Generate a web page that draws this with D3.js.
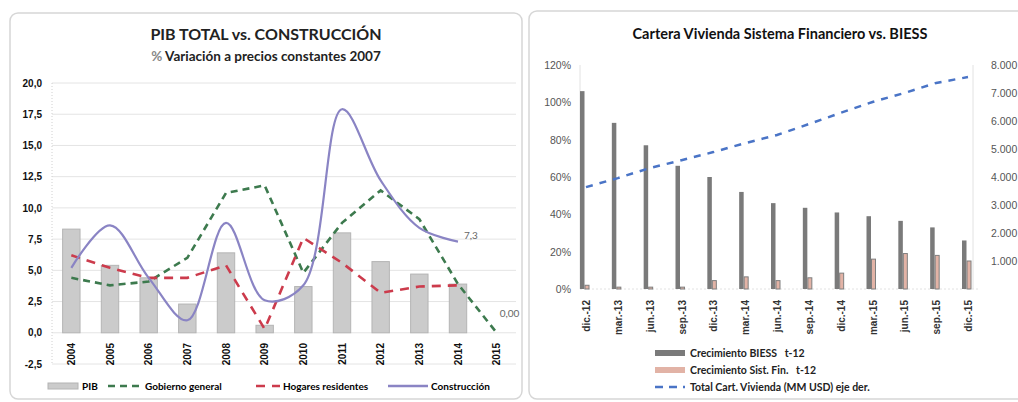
<!DOCTYPE html>
<html>
<head>
<meta charset="utf-8">
<script src="https://cdn.jsdelivr.net/npm/d3@7"></script>
<style>
	body { margin: 0; background: #fff; }
	svg { font-family: Lato, "Open Sans", sans-serif; }
	.axis .domain { display: none; }
	.axis line { display: none; }
	.pre { white-space: pre; }
</style>
</head>
<body>
<div id="chart"></div>
<script>
// ---- left chart data (% variación) ----
const years = ['2004','2005','2006','2007','2008','2009','2010','2011','2012','2013','2014','2015'];
const pib = [8.3, 5.4, 4.4, 2.3, 6.4, 0.6, 3.7, 8.0, 5.7, 4.7, 3.9, null];
const gobierno = [4.4, 3.8, 4.1, 6.0, 11.2, 11.8, 4.8, 8.8, 11.4, 9.1, 3.9, 0.0];
const hogares = [6.2, 5.2, 4.4, 4.4, 5.4, 0.3, 7.6, 5.6, 3.2, 3.7, 3.8, null];
const construccion = [5.2, 8.6, 4.4, 1.0, 8.8, 2.6, 3.8, 17.9, 12.2, 8.4, 7.3, null];
const leftTicks = [-2.5, 0, 2.5, 5, 7.5, 10, 12.5, 15, 17.5, 20];

// ---- right chart data ----
const quarters = ['dic.-12','mar.-13','jun.-13','sep.-13','dic.-13','mar.-14','jun.-14','sep.-14','dic.-14','mar.-15','jun.-15','sep.-15','dic.-15'];
const biess = [1.06, 0.89, 0.77, 0.66, 0.60, 0.52, 0.46, 0.435, 0.41, 0.39, 0.365, 0.33, 0.26];
const sistFin = [0.02, 0.01, 0.01, 0.01, 0.045, 0.065, 0.045, 0.06, 0.085, 0.16, 0.19, 0.18, 0.15];
const totalCart = [3640, 3960, 4320, 4600, 4890, 5210, 5500, 5890, 6290, 6680, 7000, 7360, 7570];
const pctTicks = [0, 0.2, 0.4, 0.6, 0.8, 1.0, 1.2];
const usdTicks = [1000, 2000, 3000, 4000, 5000, 6000, 7000, 8000];

const svg = d3.select('#chart').append('svg')
	.attr('width', 1018)
	.attr('height', 402);

// panel frames
svg.append('rect').attr('x', 10).attr('y', 13).attr('width', 512).attr('height', 386)
	.attr('rx', 8).attr('fill', 'none').attr('stroke', '#d6d6d6').attr('stroke-width', 1.5);
svg.append('rect').attr('x', 529).attr('y', 11).attr('width', 500).attr('height', 388)
	.attr('rx', 8).attr('fill', 'none').attr('stroke', '#d6d6d6').attr('stroke-width', 1.5);

drawLeft();
drawRight();

function drawLeft(){
	const g = svg.append('g').attr('class', 'left');

	g.append('text').attr('x', 266).attr('y', 40).attr('text-anchor', 'middle')
		.style('font-weight', 'bold').style('font-size', '16px').attr('fill', '#222')
		.text('PIB TOTAL vs. CONSTRUCCIÓN');
	const sub = g.append('text').attr('x', 266).attr('y', 61).attr('text-anchor', 'middle')
		.style('font-weight', 'bold').style('font-size', '13.5px').attr('fill', '#222');
	sub.append('tspan').attr('fill', '#888').text('%');
	sub.append('tspan').text(' Variación a precios constantes 2007');

	const x = d3.scaleBand().domain(years).range([52, 516]).paddingInner(0.55).paddingOuter(0.275);
	const y = d3.scaleLinear().domain([-2.5, 20]).range([364, 83]);
	const cx = d => x(d) + x.bandwidth() / 2;

	// gridlines
	g.append('g').selectAll('line').data(leftTicks).join('line')
		.attr('x1', 52).attr('x2', 516)
		.attr('y1', d => y(d)).attr('y2', d => y(d))
		.attr('stroke', '#e4e4e4').attr('stroke-width', 1);
	g.append('line').attr('x1', 52).attr('x2', 52).attr('y1', 83).attr('y2', 364)
		.attr('stroke', '#d0d0d0').attr('stroke-dasharray', '1,2');

	g.append('g').attr('class', 'axis').attr('transform', 'translate(46,0)')
		.call(d3.axisLeft(y).tickValues(leftTicks).tickSize(0).tickPadding(4)
			.tickFormat(d => d3.format('.1f')(d).replace('.', ',').replace('−', '-')))
		.selectAll('text').style('font-size', '10px').style('font-weight', 'bold').attr('fill', '#111');

	g.append('g').attr('class', 'axis').attr('transform', 'translate(0,338)')
		.call(d3.axisBottom(x).tickSize(0))
		.selectAll('text')
			.attr('transform', 'rotate(-90)')
			.attr('x', -5).attr('y', 0).attr('dy', '0.35em')
			.style('text-anchor', 'end')
			.style('font-size', '10px').style('font-weight', 'bold').attr('fill', '#111');

	// PIB bars
	g.append('g').selectAll('rect').data(years.filter((d, i) => pib[i] != null)).join('rect')
		.attr('x', d => x(d))
		.attr('y', d => y(pib[years.indexOf(d)]))
		.attr('width', x.bandwidth())
		.attr('height', d => y(0) - y(pib[years.indexOf(d)]))
		.attr('fill', '#cbcbcb').attr('stroke', '#b4b4b4').attr('stroke-width', 1);

	const series = [
		{ vals: gobierno, color: '#3d7a4e', dash: '7,5', curve: d3.curveLinear, w: 2.6 },
		{ vals: hogares, color: '#cc3b4c', dash: '9,7', curve: d3.curveLinear, w: 2.6 },
		{ vals: construccion, color: '#8a84c4', dash: null, curve: d3.curveCatmullRom.alpha(0.5), w: 2.2 }
	];
	series.forEach(function(s){
		const pts = years.map((d, i) => [d, s.vals[i]]).filter(p => p[1] != null);
		const line = d3.line().curve(s.curve).x(p => cx(p[0])).y(p => y(p[1]));
		g.append('path').datum(pts)
			.attr('d', line)
			.attr('fill', 'none')
			.attr('stroke', s.color)
			.attr('stroke-width', s.w)
			.attr('stroke-dasharray', s.dash);
	});

	g.append('text').attr('x', cx('2014') + 6).attr('y', y(7.3) - 3)
		.style('font-size', '10px').attr('fill', '#666').text('7,3');
	g.append('text').attr('x', cx('2015') + 3).attr('y', y(0) - 16)
		.style('font-size', '10px').attr('fill', '#666').text('0,00');

	// legend
	const ly = 387;
	const lg = g.append('g').style('font-size', '10px').style('font-weight', 'bold');
	lg.append('rect').attr('x', 48).attr('y', ly - 4).attr('width', 30).attr('height', 6)
		.attr('fill', '#cbcbcb').attr('stroke', '#b4b4b4');
	lg.append('text').attr('x', 82).attr('y', ly + 3).text('PIB');
	lg.append('line').attr('x1', 108).attr('x2', 142).attr('y1', ly - 1).attr('y2', ly - 1)
		.attr('stroke', '#3d7a4e').attr('stroke-width', 2.5).attr('stroke-dasharray', '7,5');
	lg.append('text').attr('x', 145).attr('y', ly + 3).text('Gobierno general');
	lg.append('line').attr('x1', 256).attr('x2', 280).attr('y1', ly - 1).attr('y2', ly - 1)
		.attr('stroke', '#cc3b4c').attr('stroke-width', 2.5).attr('stroke-dasharray', '9,7');
	lg.append('text').attr('x', 283).attr('y', ly + 3).text('Hogares residentes');
	lg.append('line').attr('x1', 388).attr('x2', 428).attr('y1', ly - 1).attr('y2', ly - 1)
		.attr('stroke', '#8a84c4').attr('stroke-width', 2.5);
	lg.append('text').attr('x', 431).attr('y', ly + 3).text('Construcción');
}

function drawRight(){
	const g = svg.append('g').attr('class', 'right');

	g.append('text').attr('x', 780).attr('y', 39).attr('text-anchor', 'middle')
		.style('font-weight', 'bold').style('font-size', '14.5px').attr('fill', '#111')
		.text('Cartera Vivienda Sistema Financiero vs. BIESS');

	const x = d3.scalePoint().domain(quarters).range([586, 968]);
	const yPct = d3.scaleLinear().domain([0, 1.2]).range([289, 65]);
	const yUsd = d3.scaleLinear().domain([0, 8000]).range([289, 65]);
	const loc = d3.formatLocale({ decimal: ',', thousands: '.', grouping: [3], currency: ['$', ''] });

	g.append('line').attr('x1', 580).attr('x2', 580).attr('y1', 65).attr('y2', 289)
		.attr('stroke', '#e2e2e2');
	g.append('line').attr('x1', 973).attr('x2', 973).attr('y1', 65).attr('y2', 289)
		.attr('stroke', '#e2e2e2');
	g.append('line').attr('x1', 580).attr('x2', 980).attr('y1', 289).attr('y2', 289)
		.attr('stroke', '#e2e2e2').attr('stroke-dasharray', '2,2');

	g.append('g').attr('class', 'axis').attr('transform', 'translate(571,0)')
		.call(d3.axisLeft(yPct).tickValues(pctTicks).tickSize(0).tickPadding(0).tickFormat(d3.format('.0%')))
		.selectAll('text').style('font-size', '10.5px').attr('fill', '#555');

	g.append('g').attr('class', 'axis').attr('transform', 'translate(991,0)')
		.call(d3.axisRight(yUsd).tickValues(usdTicks).tickSize(0).tickPadding(0).tickFormat(loc.format(',')))
		.selectAll('text').style('font-size', '10.5px').attr('fill', '#555');

	g.append('g').attr('class', 'axis').attr('transform', 'translate(0,296)')
		.call(d3.axisBottom(x).tickSize(0))
		.selectAll('text')
			.attr('transform', 'rotate(-90)')
			.attr('x', -4).attr('y', 0).attr('dy', '0.35em')
			.style('text-anchor', 'end')
			.style('font-size', '10px').style('font-weight', 'bold').attr('fill', '#333');

	// bars
	g.append('g').selectAll('rect').data(quarters).join('rect')
		.attr('x', d => x(d) - 6)
		.attr('y', (d, i) => yPct(biess[i]))
		.attr('width', 4.5)
		.attr('height', (d, i) => yPct(0) - yPct(biess[i]))
		.attr('fill', '#7a7a7a');
	g.append('g').selectAll('rect').data(quarters).join('rect')
		.attr('x', d => x(d) - 1)
		.attr('y', (d, i) => yPct(sistFin[i]))
		.attr('width', 4)
		.attr('height', (d, i) => yPct(0) - yPct(sistFin[i]))
		.attr('fill', '#e2b3a6').attr('stroke', '#7f7f7f').attr('stroke-width', 1);

	// total cartera line
	const line = d3.line().x((d, i) => x(quarters[i])).y(d => yUsd(d));
	g.append('path').datum(totalCart)
		.attr('d', line)
		.attr('fill', 'none')
		.attr('stroke', '#4a74c6')
		.attr('stroke-width', 2.5)
		.attr('stroke-dasharray', '7,7');

	// legend
	const lg = g.append('g').style('font-size', '10.5px').style('font-weight', 'bold').attr('fill', '#222');
	lg.append('rect').attr('x', 655).attr('y', 350).attr('width', 30).attr('height', 6).attr('fill', '#7a7a7a');
	lg.append('text').attr('class', 'pre').attr('x', 690).attr('y', 357).text('Crecimiento BIESS   t-12');
	lg.append('rect').attr('x', 655).attr('y', 367).attr('width', 30).attr('height', 6).attr('fill', '#e2b3a6');
	lg.append('text').attr('class', 'pre').attr('x', 690).attr('y', 374).text('Crecimiento Sist. Fin.   t-12');
	lg.append('line').attr('x1', 655).attr('x2', 685).attr('y1', 387).attr('y2', 387)
		.attr('stroke', '#4a74c6').attr('stroke-width', 2.5).attr('stroke-dasharray', '8,6');
	lg.append('text').attr('x', 690).attr('y', 391).text('Total Cart. Vivienda (MM USD) eje der.');
}
</script>
</body>
</html>
